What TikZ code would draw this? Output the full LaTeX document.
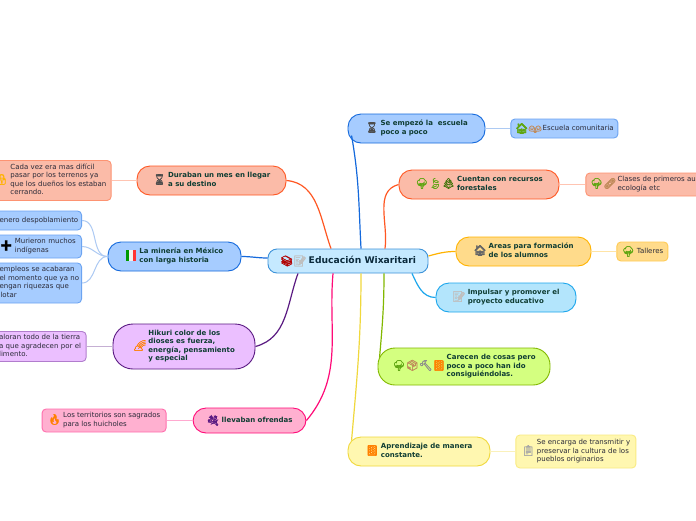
\documentclass[tikz,border=0pt]{standalone}
\usepackage{fontspec}
\usepackage{tikz}
\usetikzlibrary{positioning}
\setmainfont{DejaVu Sans}
\newfontfamily\emojifont[FakeBold=2]{Noto Emoji}
\definecolor{ink}{HTML}{0B2A3C}
\definecolor{deep}{HTML}{0F3D33}
\definecolor{soft}{HTML}{2A2A38}
\definecolor{bluefill}{HTML}{A6CCFF}
\definecolor{blueline}{HTML}{1469DC}
\definecolor{redfill}{HTML}{FBBBA8}
\definecolor{redline}{HTML}{FF5722}
\definecolor{amberfill}{HTML}{FFDB8B}
\definecolor{amberline}{HTML}{FFB300}
\definecolor{skyfill}{HTML}{B3E5FC}
\definecolor{skyline}{HTML}{1CA6EC}
\definecolor{limefill}{HTML}{D4FF80}
\definecolor{limeline}{HTML}{82B800}
\definecolor{yelfill}{HTML}{FFF7B0}
\definecolor{yelline}{HTML}{F0D83C}
\definecolor{pinkfill}{HTML}{FFB0D0}
\definecolor{pinkline}{HTML}{FF0A78}
\definecolor{purfill}{HTML}{EBBFFF}
\definecolor{purline}{HTML}{5A1A82}
\definecolor{rootfill}{HTML}{C5E9FF}
\definecolor{rootline}{HTML}{3D93D9}
\definecolor{tree}{HTML}{5FA612}
\definecolor{wood}{HTML}{C08A5A}
\newcommand{\emo}[2]{\textcolor{#1}{{\fontsize{10.5pt}{10.5pt}\emojifont\raisebox{-1.5pt}{#2}}}}
\newcommand{\rows}[1]{\raisebox{-0.7pt}{\begin{tabular}{@{}l@{}}#1\end{tabular}}}
\newcommand{\flagmx}{\textcolor{green!60!black}{\rule[-3pt]{3.6pt}{11pt}}\textcolor{black!6}{\rule[-3pt]{3.6pt}{11pt}}\textcolor{red!80}{\rule[-3pt]{3.6pt}{11pt}}}
\tikzset{
  topic/.style 2 args={rounded corners=13pt, draw=#2, fill=#1, line width=0.9pt, inner sep=0pt, minimum height=29pt, text=deep, align=left,
    font=\fontsize{7pt}{8.5pt}\selectfont\bfseries},
  leaf/.style 2 args={rounded corners=4pt, draw=#2!40!#1, fill=#1, line width=0.9pt, inner sep=0pt, text=soft, align=left,
    font=\fontsize{7pt}{8.5pt}\selectfont},
  cut/.style={inner xsep=4pt, text width=#1, anchor=east},
  flow/.style={line width=1.2pt, draw=#1},
  twig/.style={line width=1pt, draw=#1!35},
}
\begin{document}
\begin{tikzpicture}[x=1pt,y=-1pt]
  \useasboundingbox (0,0) rectangle (696,520);
  \fill[white] (0,0) rectangle (696,520);
  % centre
  \node[rounded corners=9pt, draw=rootline, fill=rootfill, line width=0.9pt, minimum width=160pt, minimum height=24pt, inner sep=0pt, text=ink, font=\fontsize{9.2pt}{11pt}\selectfont\bfseries](edu) at (348,261){\emo{red!70!black}{📚}\emo{black!25}{📝}\hspace{2pt}Educación Wixaritari};
  % right side
  \node[topic={bluefill}{blueline},minimum width=137pt](esc) at (416.5,128.5){\emo{black!70}{⌛}\hspace{2pt}\rows{Se empezó la\ \ escuela\\poco a poco}};
  \node[leaf={bluefill}{blueline},minimum width=107pt,minimum height=19pt,right=25pt of esc](comu){\emo{tree}{🏠}\emo{wood}{👫}\hspace{1pt}Escuela comunitaria};
  \node[topic={redfill}{redline},minimum width=160pt](fore) at (479,184.5){\emo{tree}{🌳}\emo{tree}{🍃}\emo{tree!70!black}{🌲}\hspace{2pt}\rows{Cuentan con recursos\\forestales}};
  \node[leaf={redfill}{redline},cut=111pt,anchor=west,minimum height=23pt,right=26pt of fore](clas){\emo{tree}{🌳}\emo{wood}{🩹}\hspace{1pt}\rows{Clases de primeros au\\ecología etc}};
  \node[topic={amberfill}{amberline},minimum width=135pt](area) at (523.5,251.5){\emo{black!60}{🏠}\hspace{2pt}\rows{Areas para formación\\de los alumnos}};
  \node[leaf={amberfill}{amberline},minimum width=51pt,minimum height=19pt,right=25pt of area](tall){\emo{tree}{🌳}\hspace{2pt}Talleres};
  \node[topic={skyfill}{skyline},minimum width=140pt](impu) at (506,297.5){\emo{black!25}{📝}\hspace{2pt}\rows{Impulsar y promover el\\proyecto educativo}};
  \node[topic={limefill}{limeline},minimum width=172pt,minimum height=37pt,rounded corners=17pt](care) at (464,366.5){\emo{tree}{🌳}\emo{wood}{📦}\emo{black!45}{🔨}\emo{orange}{📙}\hspace{1pt}\rows{Carecen de cosas pero\\poco a poco han ido\\consiguiéndolas.}};
  \node[topic={yelfill}{yelline},minimum width=142pt](apre) at (419,451.5){\emo{orange}{📙}\hspace{2pt}\rows{Aprendizaje de manera\\constante.}};
  \node[leaf={yelfill}{yelline},minimum width=120pt,minimum height=33pt,right=25pt of apre](encar){\emo{black!35}{📋}\hspace{2pt}\rows{Se encarga de transmitir y\\preservar la cultura de los\\pueblos originarios}};
  % left side
  \node[topic={redfill}{redline},minimum width=149pt](dura) at (211.5,180.5){\emo{black!70}{⌛}\hspace{2pt}\rows{Duraban un mes en llegar\\a su destino}};
  \node[leaf={redfill}{redline},cut=108pt,minimum height=40pt,left=25pt of dura](cada){\hspace*{-4pt}\emo{amberline}{🔒}\hspace{2pt}\rows{Cada vez era mas difícil\\pasar por los terrenos ya\\que los dueños los estaban\\cerrando.}};
  \node[topic={bluefill}{blueline},minimum width=133pt](mine) at (174.5,256.5){\flagmx\hspace{3pt}\rows{La minería en México\\con larga historia}};
  \node[leaf={bluefill}{blueline},cut=78pt,minimum height=19pt](desp) at (82,220.5){\rows{enero despoblamiento}};
  \node[leaf={bluefill}{blueline},cut=78pt,minimum height=23pt](muri) at (82,246.5){\emo{black}{➕}\hspace{2pt}\rows{Murieron muchos\\indígenas}};
  \node[leaf={bluefill}{blueline},cut=78pt,minimum height=40pt](empl) at (82,283){\rows{empleos se acabaran\\el momento que ya no\\engan riquezas que\\\hspace*{1pt}lotar}};
  \node[topic={purfill}{purline},minimum width=142pt,minimum height=45pt,rounded corners=20pt](hiku) at (184,346.5){\emo{orange}{🌈}\hspace{2pt}\rows{Hikuri color de los\\dioses es fuerza,\\energía, pensamiento\\y especial}};
  \node[leaf={purfill}{purline},cut=83pt,minimum height=30pt,left=26pt of hiku](valo){\rows{aloran todo de la tierra\\a que agradecen por el\\limento.}};
  \node[topic={pinkfill}{pinkline},minimum width=113pt,minimum height=25pt](ofre) at (249.5,420.5){\emo{purline}{💐}\hspace{2pt}llevaban ofrendas};
  \node[leaf={pinkfill}{pinkline},minimum width=124pt,minimum height=23pt,left=26pt of ofre](terr){\emo{orange}{🔥}\hspace{2pt}\rows{Los territorios son sagrados\\para los huicholes}};
  % main branches
  \draw[flow=blueline]([xshift=13pt]edu.north)to[out=93,in=-80]([xshift=4pt,yshift=-7pt]esc.west);
  \draw[flow=redline]([xshift=37pt]edu.north)to[out=82,in=195](fore.west);
  \draw[flow=amberline]([yshift=5pt]edu.east)to[out=15,in=180](area.west);
  \draw[flow=skyline]([xshift=64pt]edu.south)to[out=-65,in=180](impu.west);
  \draw[flow=limeline]([xshift=36pt]edu.south)to[out=-90,in=85]([xshift=2pt,yshift=9pt]care.west);
  \draw[flow=yelline]([xshift=13pt]edu.south)to[out=-90,in=85]([xshift=4pt,yshift=11pt]apre.west);
  \draw[flow=pinkline]([xshift=-15pt]edu.south)to[out=-95,in=50](ofre.east);
  \draw[flow=purline]([xshift=-50pt]edu.south)to[out=-110,in=15](hiku.east);
  \draw[flow=blueline]([yshift=3pt]edu.west)to[out=180,in=0](mine.east);
  \draw[flow=redline]([xshift=-17pt]edu.north)to[out=110,in=-5](dura.east);
  % small branches
  \draw[twig=blueline](esc)--(comu);
  \draw[twig=redline](fore)--(clas);
  \draw[twig=amberline](area)--(tall);
  \draw[twig=yelline](apre)--(encar);
  \draw[twig=redline](dura)--(cada);
  \draw[twig=purline](hiku)--(valo);
  \draw[twig=pinkline](ofre)--(terr);
  \draw[twig=blueline](mine.west)to[out=180,in=0](desp.east);
  \draw[twig=blueline](mine.west)to[out=180,in=0](muri.east);
  \draw[twig=blueline](mine.west)to[out=180,in=0](empl.east);
\end{tikzpicture}
\end{document}
